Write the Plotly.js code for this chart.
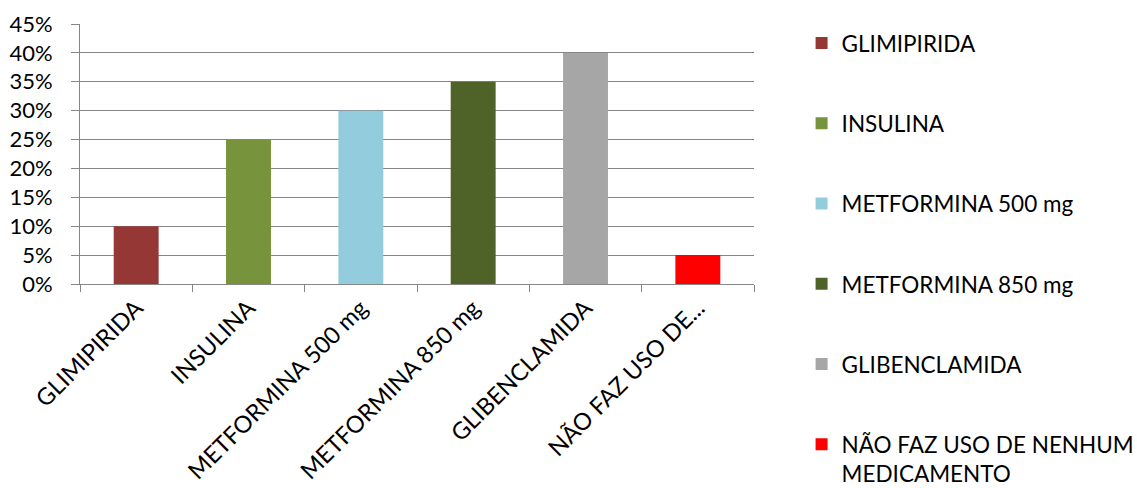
<!DOCTYPE html>
<html>
<head>
<meta charset="utf-8">
<script src="https://cdn.plot.ly/plotly-3.0.1.min.js"></script>
<style>html,body{margin:0;padding:0;background:#fff;}#chart{width:1137px;height:488px;}</style>
</head>
<body>
<div id="chart"></div>
<script>
var categories = ["GLIMIPIRIDA", "INSULINA", "METFORMINA 500 mg", "METFORMINA 850 mg", "GLIBENCLAMIDA", "NÃO FAZ USO DE..."];
var legendNames = ["GLIMIPIRIDA", "INSULINA", "METFORMINA 500 mg", "METFORMINA 850 mg", "GLIBENCLAMIDA", "NÃO FAZ USO DE NENHUM<br>MEDICAMENTO"];
var values = [0.10, 0.25, 0.30, 0.35, 0.40, 0.05];
var colors = ["#953735", "#77933C", "#93CDDD", "#4F6228", "#A6A6A6", "#FF0000"];
var yTicks = [0, 0.05, 0.10, 0.15, 0.20, 0.25, 0.30, 0.35, 0.40, 0.45];
var yTickText = ["0%", "5%", "10%", "15%", "20%", "25%", "30%", "35%", "40%", "45%"];

var font = "Lato, 'Open Sans', sans-serif";
var traces = categories.map(function(c, i) {
  return {
    type: "bar",
    x: [c],
    y: [values[i]],
    name: legendNames[i],
    legendgroup: "g" + i,
    marker: {color: colors[i]},
    width: 0.4,
    hoverinfo: "x+y"
  };
});

var layout = {
  width: 1137, height: 488,
  margin: {l: 80, r: 383, t: 24, b: 204},
  paper_bgcolor: "#fff", plot_bgcolor: "#fff",
  font: {family: font, size: 22, color: "#000"},
  barmode: "overlay",
  showlegend: true,
  legend: {
    xref: "container", yref: "container",
    x: 0.705, y: 0.955, xanchor: "left", yanchor: "top",
    maxheight: 700,
    valign: "top",
    traceorder: "grouped", tracegroupgap: 48,
    font: {family: font, size: 22.5, color: "#000"},
    bgcolor: "rgba(0,0,0,0)"
  },
  xaxis: {
    type: "category",
    categoryorder: "array", categoryarray: categories,
    tickangle: -45,
    tickson: "boundaries",
    ticks: "outside", ticklen: 7, tickcolor: "#868686", tickwidth: 1,
    showline: true, linecolor: "#868686", linewidth: 1,
    showgrid: false,
    tickfont: {family: font, size: 23.5, color: "#000"},
    fixedrange: true
  },
  yaxis: {
    range: [0, 0.45],
    tickvals: yTicks, ticktext: yTickText,
    ticks: "outside", ticklen: 8, tickcolor: "#868686", tickwidth: 1,
    ticklabelstandoff: 14,
    showline: true, linecolor: "#868686", linewidth: 1,
    showgrid: true, gridcolor: "#868686", gridwidth: 1,
    zeroline: false,
    tickfont: {family: font, size: 22, color: "#000"},
    fixedrange: true
  }
};

Plotly.newPlot("chart", traces, layout, {displayModeBar: false, staticPlot: true});
</script>
</body>
</html>
